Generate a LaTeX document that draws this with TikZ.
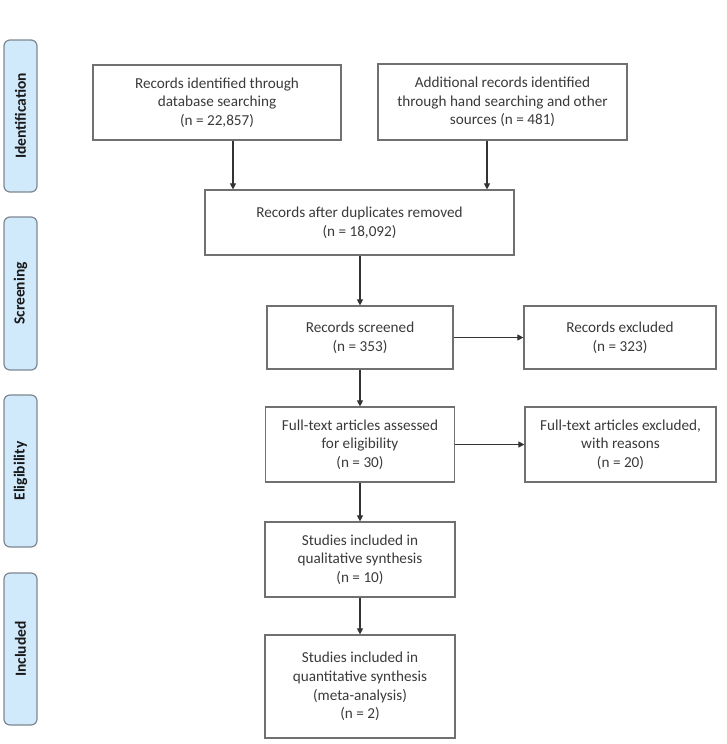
\documentclass[tikz,border=0pt]{standalone}
\usepackage{fontspec}
\setmainfont{Carlito}
\usetikzlibrary{arrows.meta}
\definecolor{boxline}{HTML}{707070}
\definecolor{barfill}{HTML}{D0E9FB}
\definecolor{barline}{HTML}{7D8792}
\definecolor{txt}{HTML}{3A3A3A}
\begin{document}
\begin{tikzpicture}[x=1pt,y=-1pt,
  flowbox/.style={draw=boxline, line width=1.2pt, rectangle, align=center, text=txt,
    font=\fontsize{15.2}{18.7}\selectfont, inner sep=2pt},
  phasebar/.style={draw=barline, fill=barfill, line width=1.2pt, rectangle, rounded corners=6pt,
    text=black!90, font=\bfseries\fontsize{15.5}{17}\selectfont,
    rotate=90, inner sep=0pt},
  arr/.style={draw=black!80, line width=1.1pt, -{Triangle[length=6pt,width=6pt]}}]
\useasboundingbox (0,0) rectangle (727,744);
% phase bars
\node[phasebar, minimum width=152pt, minimum height=33pt] (p1) at (20.5,116) {Identification};
\node[phasebar, minimum width=153pt, minimum height=33pt] (p2) at (20.5,293.5) {Screening};
\node[phasebar, minimum width=152pt, minimum height=33pt] (p3) at (20.5,471) {Eligibility};
\node[phasebar, minimum width=152pt, minimum height=33pt] (p4) at (20.5,649) {Included};
% boxes
\node[flowbox, minimum width=248pt, minimum height=75pt] (b1) at (217,102.5)
  {Records identified through\\database searching\\(n = 22,857)};
\node[flowbox, minimum width=249pt, minimum height=76pt] (b2) at (502.5,102)
  {Additional records identified\\through hand searching and other\\sources (n = 481)};
\node[flowbox, minimum width=309pt, minimum height=65pt] (b3) at (359.5,222.5)
  {Records after duplicates removed\\(n = 18,092)};
\node[flowbox, minimum width=186pt, minimum height=63pt] (b4) at (360,337.5)
  {Records screened\\(n = 353)};
\node[flowbox, minimum width=192pt, minimum height=63pt] (b5) at (620,337.5)
  {Records excluded\\(n = 323)};
\node[flowbox, minimum width=189pt, minimum height=75pt] (b6) at (360,444.5)
  {Full-text articles assessed\\for eligibility\\(n = 30)};
\node[flowbox, minimum width=191pt, minimum height=75pt] (b7) at (620.5,444.5)
  {Full-text articles excluded,\\with reasons\\(n = 20)};
\node[flowbox, minimum width=190pt, minimum height=75pt] (b8) at (360,559.5)
  {Studies included in\\qualitative synthesis\\(n = 10)};
\node[flowbox, minimum width=190pt, minimum height=103pt] (b9) at (360,686.5)
  {Studies included in\\quantitative synthesis\\(meta-analysis)\\(n = 2)};
% connectors
\coordinate (a1) at (233,0);
\coordinate (a2) at (487,0);
\draw[arr] (b1.south -| a1) -- (b3.north -| a1);
\draw[arr] (b2.south -| a2) -- (b3.north -| a2);
\draw[arr] (b3.south -| b4.north) -- (b4.north);
\draw[arr] (b4.east) -- (b5.west);
\draw[arr] (b4.south) -- (b6.north);
\draw[arr] (b6.east) -- (b7.west);
\draw[arr] (b6.south) -- (b8.north);
\draw[arr] (b8.south) -- (b9.north);
\end{tikzpicture}
\end{document}
